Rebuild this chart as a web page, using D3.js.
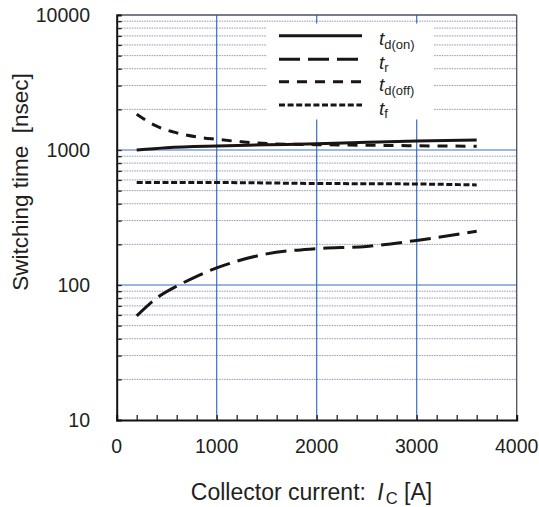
<!DOCTYPE html>
<html><head><meta charset="utf-8">
<script src="https://cdn.jsdelivr.net/npm/d3@7"></script>
<style>body{margin:0;background:#fff}svg{display:block}text{font-family:"Liberation Sans",Arial,sans-serif;fill:#231f20;white-space:pre}</style>
</head><body><svg id="c" width="539" height="507"></svg>
<script>
// Data (collector current in A, switching time in ns)
const tdOnI  = [200, 500, 1000, 1500, 2000, 2500, 3000, 3600];
const tdOnV  = [1000, 1040, 1072, 1092, 1112, 1140, 1168, 1188];
const trI    = [200, 400, 600, 800, 1000, 1200, 1500, 2000, 2500, 3000, 3600];
const trV    = [59, 80, 98, 116, 134, 150, 170, 186, 193, 214, 250];
const tdOffI = [200, 400, 600, 800, 1000, 1250, 1500, 2000, 2500, 3000, 3600];
const tdOffV = [1840, 1500, 1340, 1250, 1200, 1150, 1115, 1095, 1085, 1075, 1065];
const tfI    = [200, 1000, 2000, 3000, 3600];
const tfV    = [575, 574, 565, 560, 551];
const xTicks = [0, 1000, 2000, 3000, 4000];
const yTicks = [10, 100, 1000, 10000];
const legendMain = ["t", "t", "t", "t"];
const legendSub = ["d(on)", "r", "d(off)", "f"];

const svg = d3.select("#c");
const x = d3.scaleLinear().domain([0, 4000]).range([116.7, 516.7]);
const y = d3.scaleLog().domain([10, 10000]).range([420, 15]);

// minor horizontal grid
const minors = [];
[10, 100, 1000].forEach(d => { for (let k = 2; k <= 9; k++) minors.push(d * k); });
const g = svg.append("g");
g.selectAll("line.minor").data(minors).join("line")
  .attr("x1", x(0)).attr("x2", x(4000))
  .attr("y1", d => y(d)).attr("y2", d => y(d))
  .attr("stroke", "#8d96b5").attr("stroke-width", 1).attr("stroke-dasharray", "1.5,1");
// major grid
g.selectAll("line.majh").data([100, 1000]).join("line")
  .attr("x1", x(0)).attr("x2", x(4000))
  .attr("y1", d => y(d)).attr("y2", d => y(d))
  .attr("stroke", "#3a6cc8").attr("stroke-width", 1.2);
g.selectAll("line.majv").data([1000, 2000, 3000]).join("line")
  .attr("x1", d => x(d)).attr("x2", d => x(d))
  .attr("y1", y(10)).attr("y2", y(10000))
  .attr("stroke", "#3a6cc8").attr("stroke-width", 1.2);

// legend background box
svg.append("rect").attr("x", 267).attr("y", 23.5).attr("width", 166).attr("height", 96).attr("fill", "#fff");

// frame
svg.append("line").attr("x1", x(0)).attr("x2", x(4000)).attr("y1", y(10000)).attr("y2", y(10000)).attr("stroke", "#4a5060").attr("stroke-width", 1.3);
svg.append("line").attr("x1", x(4000)).attr("x2", x(4000)).attr("y1", y(10)).attr("y2", y(10000)).attr("stroke", "#4a5060").attr("stroke-width", 1.3);

// axes
const yAxis = d3.axisLeft(y).tickValues(minors.concat([100, 1000])).tickSize(-5).tickFormat("");
const ya = svg.append("g").attr("transform", `translate(${x(0)},0)`).call(yAxis);
ya.select(".domain").attr("stroke", "#111").attr("stroke-width", 2);
ya.selectAll(".tick line").attr("stroke", "#222").attr("stroke-width", 1.3);
const xAxis = d3.axisBottom(x).tickValues(d3.range(200, 4000, 200)).tickSize(-5).tickFormat("");
const xa = svg.append("g").attr("transform", `translate(0,${y(10)})`).call(xAxis);
xa.select(".domain").attr("stroke", "#111").attr("stroke-width", 2);
xa.selectAll(".tick line").attr("stroke", "#222").attr("stroke-width", 1.3);

// tick labels
svg.append("g").selectAll("text").data(yTicks).join("text")
  .attr("x", 90).attr("y", d => y(d) + 7).attr("text-anchor", "end")
  .style("font-size", "19.5px").text(d => d);
svg.append("g").selectAll("text").data(xTicks).join("text")
  .attr("x", d => x(d)).attr("y", 453).attr("text-anchor", "middle")
  .style("font-size", "19.5px").text(d => d);

// axis titles
const xt = svg.append("text").attr("x", 311.5).attr("y", 500).attr("text-anchor", "middle").style("font-size", "23px");
xt.append("tspan").text("Collector current: ");
xt.append("tspan").attr("dx", 5).style("font-style", "italic").text("I");
xt.append("tspan").attr("dx", 2).attr("dy", 4).style("font-size", "16.5px").text("C");
xt.append("tspan").attr("dy", -4).text(" [A]");
svg.append("text").attr("transform", "translate(28,182) rotate(-90)").attr("text-anchor", "middle")
  .style("font-size", "22.5px").text("Switching time  [nsec]");

// curves
const series = [
  {I: tdOnI, V: tdOnV, dash: null},
  {I: trI, V: trV, dash: "21,8"},
  {I: tdOffI, V: tdOffV, dash: "10,8"},
  {I: tfI, V: tfV, dash: "6,2.6"}
];
const line = d3.line().x(d => x(d[0])).y(d => y(d[1])).curve(d3.curveMonotoneX);
series.forEach(s => {
  svg.append("path").datum(s.I.map((v, i) => [v, s.V[i]]))
    .attr("d", line).attr("fill", "none").attr("stroke", "#1a1414")
    .attr("stroke-width", 3).attr("stroke-dasharray", s.dash);
});

// legend
const ly = [35.7, 59.3, 81.7, 105];
series.forEach((s, i) => {
  svg.append("line").attr("x1", 279).attr("x2", 362).attr("y1", ly[i]).attr("y2", ly[i])
    .attr("stroke", "#1a1414").attr("stroke-width", 3).attr("stroke-dasharray", s.dash);
  const t = svg.append("text").attr("x", 379).attr("y", ly[i] + 9.5).style("font-size", "19px");
  t.append("tspan").style("font-style", "italic").text(legendMain[i]);
  t.append("tspan").attr("dy", 3.5).style("font-size", "13px").text(legendSub[i]);
});
</script></body></html>
